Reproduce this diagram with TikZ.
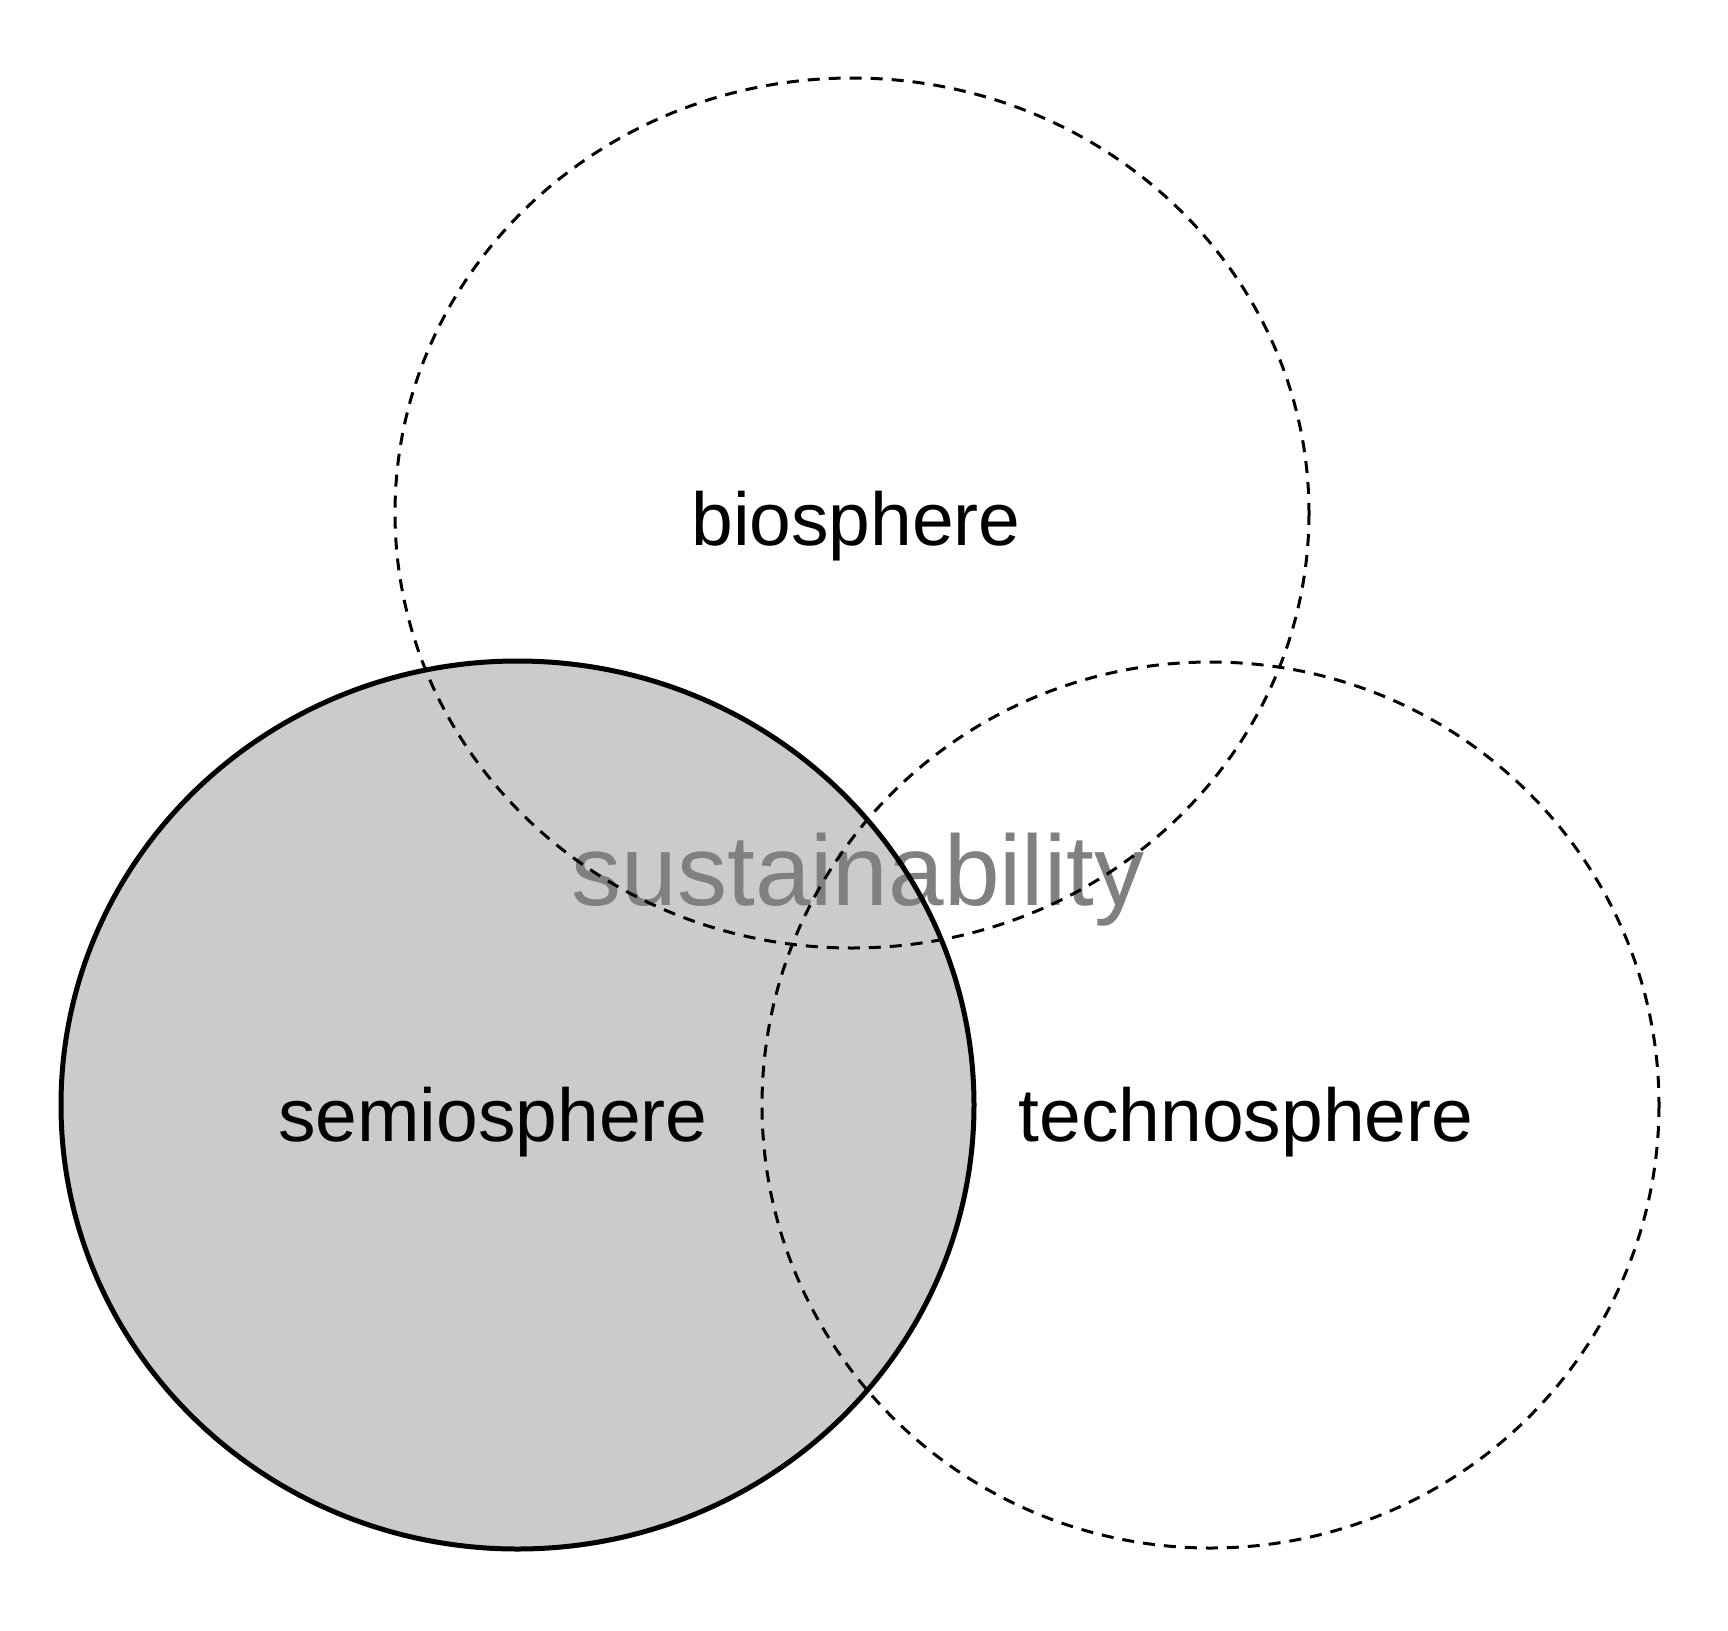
\documentclass[tikz,border=0pt]{standalone}
\usepackage{fontspec}
\setmainfont{Liberation Sans}
\definecolor{semifill}{HTML}{CBCBCB}
\definecolor{sustgray}{HTML}{808080}
\tikzset{
  sphere/.style={draw=black, line width=3bp, dash pattern=on 12bp off 9bp},
  semio/.style={draw=black, line width=5bp},
  lbl/.style={anchor=base, inner sep=0pt, font=\fontsize{75bp}{90bp}\selectfont},
  sust/.style={anchor=base, inner sep=0pt, text=sustgray, font=\fontsize{100bp}{120bp}\selectfont}
}
\begin{document}
\begin{tikzpicture}[x=1bp, y=-1bp]
\useasboundingbox (0,0) rectangle (1728,1631);
\fill[white] (0,0) rectangle (1728,1631);
\coordinate (cs) at (517.5,1105);
\coordinate (cb) at (852,513);
\coordinate (ct) at (1210.5,1105);
\fill[semifill] (cs) ellipse [x radius=456.5, y radius=444];
\node[sust] (sustain) at (858,905) {sustainability};
\draw[semio] (cs) ellipse [x radius=456.5, y radius=444];
\draw[sphere] (cb) ellipse [x radius=457, y radius=435];
\draw[sphere] (ct) ellipse [x radius=448.5, y radius=443];
\node[lbl] (bio) at (856,545) {biosphere};
\node[lbl] (semiolbl) at (493,1141) {semiosphere};
\node[lbl] (techno) at (1246,1141) {technosphere};
\end{tikzpicture}
\end{document}
